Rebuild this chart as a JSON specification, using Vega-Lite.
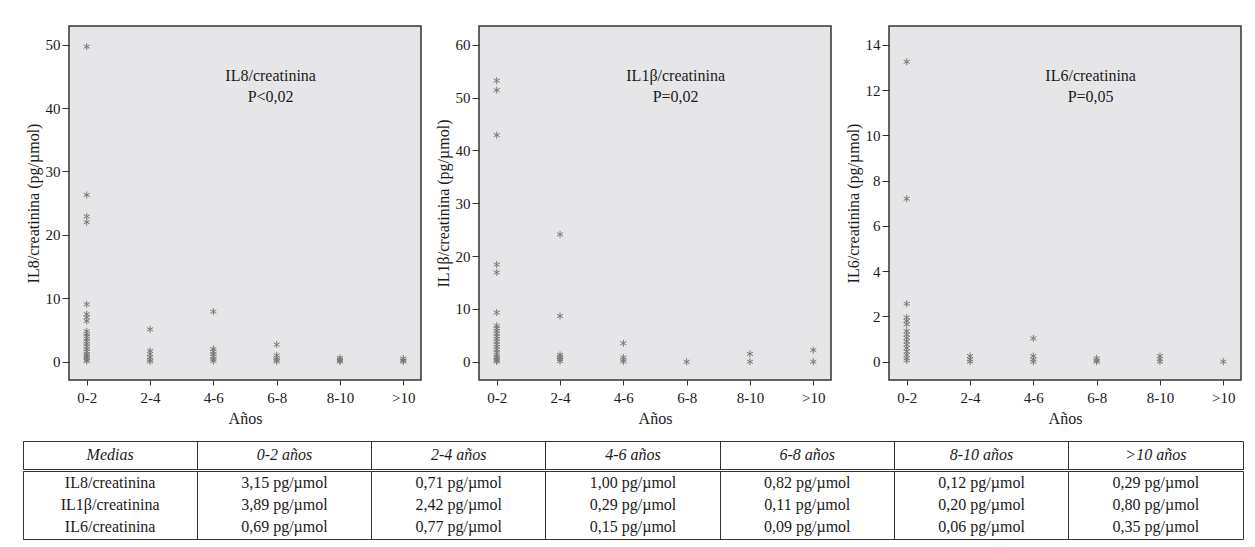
{
  "$schema": "https://vega.github.io/schema/vega-lite/v6.json",
  "padding": {"left": 22, "top": 25, "right": 5, "bottom": 5},
  "background": "white",
  "config": {
    "font": "Liberation Serif",
    "view": {"fill": "#e6e6e8", "stroke": "#333333", "strokeWidth": 1.5},
    "axis": {
      "labelFont": "Liberation Serif", "titleFont": "Liberation Serif",
      "labelFontSize": 15, "titleFontSize": 16, "titleFontWeight": "normal",
      "labelColor": "#1a1a1a", "titleColor": "#1a1a1a", "tickColor": "#333333",
      "domain": false, "grid": false
    },
    "axisX": {"labelAngle": 0, "tickSize": 5, "labelPadding": 5, "titlePadding": 5},
    "axisY": {"tickSize": 7, "labelPadding": 2, "titlePadding": 4, "minExtent": 24, "maxExtent": 24}
  },
  "datasets": {
    "il8": [
      {"grupo": "0-2", "valor": 49.7}, {"grupo": "0-2", "valor": 26.3}, {"grupo": "0-2", "valor": 22.9}, {"grupo": "0-2", "valor": 22.0},
      {"grupo": "0-2", "valor": 9.05}, {"grupo": "0-2", "valor": 7.5}, {"grupo": "0-2", "valor": 7.0}, {"grupo": "0-2", "valor": 6.4},
      {"grupo": "0-2", "valor": 4.8}, {"grupo": "0-2", "valor": 4.4}, {"grupo": "0-2", "valor": 4.0}, {"grupo": "0-2", "valor": 3.6},
      {"grupo": "0-2", "valor": 3.2}, {"grupo": "0-2", "valor": 2.8}, {"grupo": "0-2", "valor": 2.4}, {"grupo": "0-2", "valor": 2.0},
      {"grupo": "0-2", "valor": 1.6}, {"grupo": "0-2", "valor": 1.2}, {"grupo": "0-2", "valor": 0.9}, {"grupo": "0-2", "valor": 0.6},
      {"grupo": "0-2", "valor": 0.3}, {"grupo": "0-2", "valor": 0.1},
      {"grupo": "2-4", "valor": 5.1}, {"grupo": "2-4", "valor": 1.7}, {"grupo": "2-4", "valor": 1.2}, {"grupo": "2-4", "valor": 0.7},
      {"grupo": "2-4", "valor": 0.3}, {"grupo": "2-4", "valor": 0.05},
      {"grupo": "4-6", "valor": 7.9}, {"grupo": "4-6", "valor": 2.0}, {"grupo": "4-6", "valor": 1.6}, {"grupo": "4-6", "valor": 1.2},
      {"grupo": "4-6", "valor": 0.8}, {"grupo": "4-6", "valor": 0.4}, {"grupo": "4-6", "valor": 0.1},
      {"grupo": "6-8", "valor": 2.7}, {"grupo": "6-8", "valor": 1.0}, {"grupo": "6-8", "valor": 0.6}, {"grupo": "6-8", "valor": 0.3},
      {"grupo": "6-8", "valor": 0.05},
      {"grupo": "8-10", "valor": 0.6}, {"grupo": "8-10", "valor": 0.35}, {"grupo": "8-10", "valor": 0.15}, {"grupo": "8-10", "valor": 0.05},
      {"grupo": ">10", "valor": 0.5}, {"grupo": ">10", "valor": 0.2}, {"grupo": ">10", "valor": 0.05}
    ],
    "il1b": [
      {"grupo": "0-2", "valor": 53.2}, {"grupo": "0-2", "valor": 51.4}, {"grupo": "0-2", "valor": 42.9}, {"grupo": "0-2", "valor": 18.4},
      {"grupo": "0-2", "valor": 16.9}, {"grupo": "0-2", "valor": 9.3}, {"grupo": "0-2", "valor": 6.8}, {"grupo": "0-2", "valor": 6.3},
      {"grupo": "0-2", "valor": 5.8}, {"grupo": "0-2", "valor": 5.3}, {"grupo": "0-2", "valor": 4.8}, {"grupo": "0-2", "valor": 4.3},
      {"grupo": "0-2", "valor": 3.8}, {"grupo": "0-2", "valor": 3.3}, {"grupo": "0-2", "valor": 2.8}, {"grupo": "0-2", "valor": 2.3},
      {"grupo": "0-2", "valor": 1.8}, {"grupo": "0-2", "valor": 1.3}, {"grupo": "0-2", "valor": 0.9}, {"grupo": "0-2", "valor": 0.5},
      {"grupo": "0-2", "valor": 0.2}, {"grupo": "0-2", "valor": 0.05},
      {"grupo": "2-4", "valor": 24.1}, {"grupo": "2-4", "valor": 8.65}, {"grupo": "2-4", "valor": 1.3}, {"grupo": "2-4", "valor": 0.9},
      {"grupo": "2-4", "valor": 0.5}, {"grupo": "2-4", "valor": 0.1},
      {"grupo": "4-6", "valor": 3.5}, {"grupo": "4-6", "valor": 0.8}, {"grupo": "4-6", "valor": 0.4}, {"grupo": "4-6", "valor": 0.05},
      {"grupo": "6-8", "valor": 0.0},
      {"grupo": "8-10", "valor": 1.5}, {"grupo": "8-10", "valor": 0.0},
      {"grupo": ">10", "valor": 2.2}, {"grupo": ">10", "valor": 0.0}
    ],
    "il6": [
      {"grupo": "0-2", "valor": 13.25}, {"grupo": "0-2", "valor": 7.2}, {"grupo": "0-2", "valor": 2.56}, {"grupo": "0-2", "valor": 1.95},
      {"grupo": "0-2", "valor": 1.8}, {"grupo": "0-2", "valor": 1.65}, {"grupo": "0-2", "valor": 1.35}, {"grupo": "0-2", "valor": 1.2},
      {"grupo": "0-2", "valor": 1.05}, {"grupo": "0-2", "valor": 0.9}, {"grupo": "0-2", "valor": 0.75}, {"grupo": "0-2", "valor": 0.6},
      {"grupo": "0-2", "valor": 0.45}, {"grupo": "0-2", "valor": 0.3}, {"grupo": "0-2", "valor": 0.15}, {"grupo": "0-2", "valor": 0.05},
      {"grupo": "2-4", "valor": 0.25}, {"grupo": "2-4", "valor": 0.1}, {"grupo": "2-4", "valor": 0.0},
      {"grupo": "4-6", "valor": 1.03}, {"grupo": "4-6", "valor": 0.25}, {"grupo": "4-6", "valor": 0.1}, {"grupo": "4-6", "valor": 0.0},
      {"grupo": "6-8", "valor": 0.15}, {"grupo": "6-8", "valor": 0.05}, {"grupo": "6-8", "valor": 0.0},
      {"grupo": "8-10", "valor": 0.25}, {"grupo": "8-10", "valor": 0.12}, {"grupo": "8-10", "valor": 0.0},
      {"grupo": ">10", "valor": 0.0}
    ],
    "header": [
      {"col": 0, "text": "Medias"}, {"col": 1, "text": "0-2 años"}, {"col": 2, "text": "2-4 años"}, {"col": 3, "text": "4-6 años"},
      {"col": 4, "text": "6-8 años"}, {"col": 5, "text": "8-10 años"}, {"col": 6, "text": ">10 años"}
    ],
    "cells": [
      {"row": "IL8/creatinina", "col": 0, "text": "IL8/creatinina"},
      {"row": "IL8/creatinina", "col": 1, "text": "3,15 pg/µmol"},
      {"row": "IL8/creatinina", "col": 2, "text": "0,71 pg/µmol"},
      {"row": "IL8/creatinina", "col": 3, "text": "1,00 pg/µmol"},
      {"row": "IL8/creatinina", "col": 4, "text": "0,82 pg/µmol"},
      {"row": "IL8/creatinina", "col": 5, "text": "0,12 pg/µmol"},
      {"row": "IL8/creatinina", "col": 6, "text": "0,29 pg/µmol"},
      {"row": "IL1β/creatinina", "col": 0, "text": "IL1β/creatinina"},
      {"row": "IL1β/creatinina", "col": 1, "text": "3,89 pg/µmol"},
      {"row": "IL1β/creatinina", "col": 2, "text": "2,42 pg/µmol"},
      {"row": "IL1β/creatinina", "col": 3, "text": "0,29 pg/µmol"},
      {"row": "IL1β/creatinina", "col": 4, "text": "0,11 pg/µmol"},
      {"row": "IL1β/creatinina", "col": 5, "text": "0,20 pg/µmol"},
      {"row": "IL1β/creatinina", "col": 6, "text": "0,80 pg/µmol"},
      {"row": "IL6/creatinina", "col": 0, "text": "IL6/creatinina"},
      {"row": "IL6/creatinina", "col": 1, "text": "0,69 pg/µmol"},
      {"row": "IL6/creatinina", "col": 2, "text": "0,77 pg/µmol"},
      {"row": "IL6/creatinina", "col": 3, "text": "0,15 pg/µmol"},
      {"row": "IL6/creatinina", "col": 4, "text": "0,09 pg/µmol"},
      {"row": "IL6/creatinina", "col": 5, "text": "0,06 pg/µmol"},
      {"row": "IL6/creatinina", "col": 6, "text": "0,35 pg/µmol"}
    ],
    "anotaciones": [
      {"panel": "il8", "etiqueta": ["IL8/creatinina", "P<0,02"]},
      {"panel": "il1b", "etiqueta": ["IL1β/creatinina", "P=0,02"]},
      {"panel": "il6", "etiqueta": ["IL6/creatinina", "P=0,05"]}
    ]
  },
  "spacing": 13,
  "vconcat": [
    {
      "spacing": 0,
      "hconcat": [
        {
          "width": 1, "height": 354,
          "data": {"values": []},
          "view": {"fill": null, "stroke": null},
          "mark": "point"
        },
        {
          "spacing": 12,
          "hconcat": [
            {
              "width": 352, "height": 354,
              "layer": [
                {
                  "data": {"name": "il8"},
                  "mark": {"type": "point", "shape": "M0,-1L0,1M-0.87,-0.5L0.87,0.5M-0.87,0.5L0.87,-0.5", "filled": false, "stroke": "#777777", "strokeWidth": 1, "size": 49, "opacity": 1},
                  "encoding": {
                    "x": {"field": "grupo", "type": "ordinal", "scale": {"type": "point", "domain": ["0-2", "2-4", "4-6", "6-8", "8-10", ">10"], "padding": 0.28}, "axis": {"title": "Años"}},
                    "y": {"field": "valor", "type": "quantitative", "scale": {"domain": [-2.89, 52.95], "nice": false, "zero": false}, "axis": {"values": [0, 10, 20, 30, 40, 50], "title": "IL8/creatinina (pg/µmol)"}}
                  }
                },
                {
                  "data": {"name": "anotaciones"},
                  "transform": [{"filter": "datum.panel == 'il8'"}],
                  "mark": {"type": "text", "font": "Liberation Serif", "fontSize": 16, "lineHeight": 21, "baseline": "middle", "align": "center", "color": "#1a1a1a", "dx": -6},
                  "encoding": {"x": {"datum": "6-8", "type": "ordinal"}, "y": {"datum": 45, "type": "quantitative"}, "text": {"field": "etiqueta", "type": "nominal"}}
                }
              ]
            },
            {
              "width": 352, "height": 354,
              "layer": [
                {
                  "data": {"name": "il1b"},
                  "mark": {"type": "point", "shape": "M0,-1L0,1M-0.87,-0.5L0.87,0.5M-0.87,0.5L0.87,-0.5", "filled": false, "stroke": "#777777", "strokeWidth": 1, "size": 49, "opacity": 1},
                  "encoding": {
                    "x": {"field": "grupo", "type": "ordinal", "scale": {"type": "point", "domain": ["0-2", "2-4", "4-6", "6-8", "8-10", ">10"], "padding": 0.28}, "axis": {"title": "Años"}},
                    "y": {"field": "valor", "type": "quantitative", "scale": {"domain": [-3.46, 63.54], "nice": false, "zero": false}, "axis": {"values": [0, 10, 20, 30, 40, 50, 60], "title": "IL1β/creatinina (pg/µmol)"}}
                  }
                },
                {
                  "data": {"name": "anotaciones"},
                  "transform": [{"filter": "datum.panel == 'il1b'"}],
                  "mark": {"type": "text", "font": "Liberation Serif", "fontSize": 16, "lineHeight": 21, "baseline": "middle", "align": "center", "color": "#1a1a1a", "dx": -11},
                  "encoding": {"x": {"datum": "6-8", "type": "ordinal"}, "y": {"datum": 54, "type": "quantitative"}, "text": {"field": "etiqueta", "type": "nominal"}}
                }
              ]
            },
            {
              "width": 352, "height": 354,
              "layer": [
                {
                  "data": {"name": "il6"},
                  "mark": {"type": "point", "shape": "M0,-1L0,1M-0.87,-0.5L0.87,0.5M-0.87,0.5L0.87,-0.5", "filled": false, "stroke": "#777777", "strokeWidth": 1, "size": 49, "opacity": 1},
                  "encoding": {
                    "x": {"field": "grupo", "type": "ordinal", "scale": {"type": "point", "domain": ["0-2", "2-4", "4-6", "6-8", "8-10", ">10"], "padding": 0.28}, "axis": {"title": "Años"}},
                    "y": {"field": "valor", "type": "quantitative", "scale": {"domain": [-0.81, 14.83], "nice": false, "zero": false}, "axis": {"values": [0, 2, 4, 6, 8, 10, 12, 14], "title": "IL6/creatinina (pg/µmol)"}}
                  }
                },
                {
                  "data": {"name": "anotaciones"},
                  "transform": [{"filter": "datum.panel == 'il6'"}],
                  "mark": {"type": "text", "font": "Liberation Serif", "fontSize": 16, "lineHeight": 21, "baseline": "middle", "align": "center", "color": "#1a1a1a", "dx": -6},
                  "encoding": {"x": {"datum": "6-8", "type": "ordinal"}, "y": {"datum": 12.6, "type": "quantitative"}, "text": {"field": "etiqueta", "type": "nominal"}}
                }
              ]
            }
          ]
        }
      ]
    },
    {
      "spacing": 0,
      "vconcat": [
        {
          "width": 1220, "height": 28,
          "data": {"name": "header"},
          "view": {"fill": "white", "stroke": "#333333", "strokeWidth": 1},
          "mark": {"type": "text", "font": "Liberation Serif", "fontSize": 16, "fontStyle": "italic", "color": "#1a1a1a", "baseline": "middle"},
          "encoding": {
            "x": {"field": "col", "type": "ordinal", "scale": {"type": "band", "domain": [0, 1, 2, 3, 4, 5, 6], "paddingInner": 0, "paddingOuter": 0},
                  "axis": {"orient": "top", "grid": true, "gridColor": "#333333", "gridWidth": 1, "gridOpacity": 1, "bandPosition": 0, "labels": false, "ticks": false, "domain": false, "title": null, "minExtent": 0, "maxExtent": 0}},
            "text": {"field": "text"}
          }
        },
        {
          "width": 1220, "height": 68,
          "data": {"name": "cells"},
          "view": {"fill": "white", "stroke": "#333333", "strokeWidth": 1},
          "mark": {"type": "text", "font": "Liberation Serif", "fontSize": 16, "color": "#1a1a1a", "baseline": "middle"},
          "encoding": {
            "x": {"field": "col", "type": "ordinal", "scale": {"type": "band", "domain": [0, 1, 2, 3, 4, 5, 6], "paddingInner": 0, "paddingOuter": 0},
                  "axis": {"orient": "top", "grid": true, "gridColor": "#333333", "gridWidth": 1, "gridOpacity": 1, "bandPosition": 0, "labels": false, "ticks": false, "domain": false, "title": null, "minExtent": 0, "maxExtent": 0}},
            "y": {"field": "row", "type": "ordinal", "scale": {"type": "point", "domain": ["IL8/creatinina", "IL1β/creatinina", "IL6/creatinina"], "padding": 0.53}, "axis": null},
            "text": {"field": "text"}
          }
        }
      ]
    }
  ]
}
